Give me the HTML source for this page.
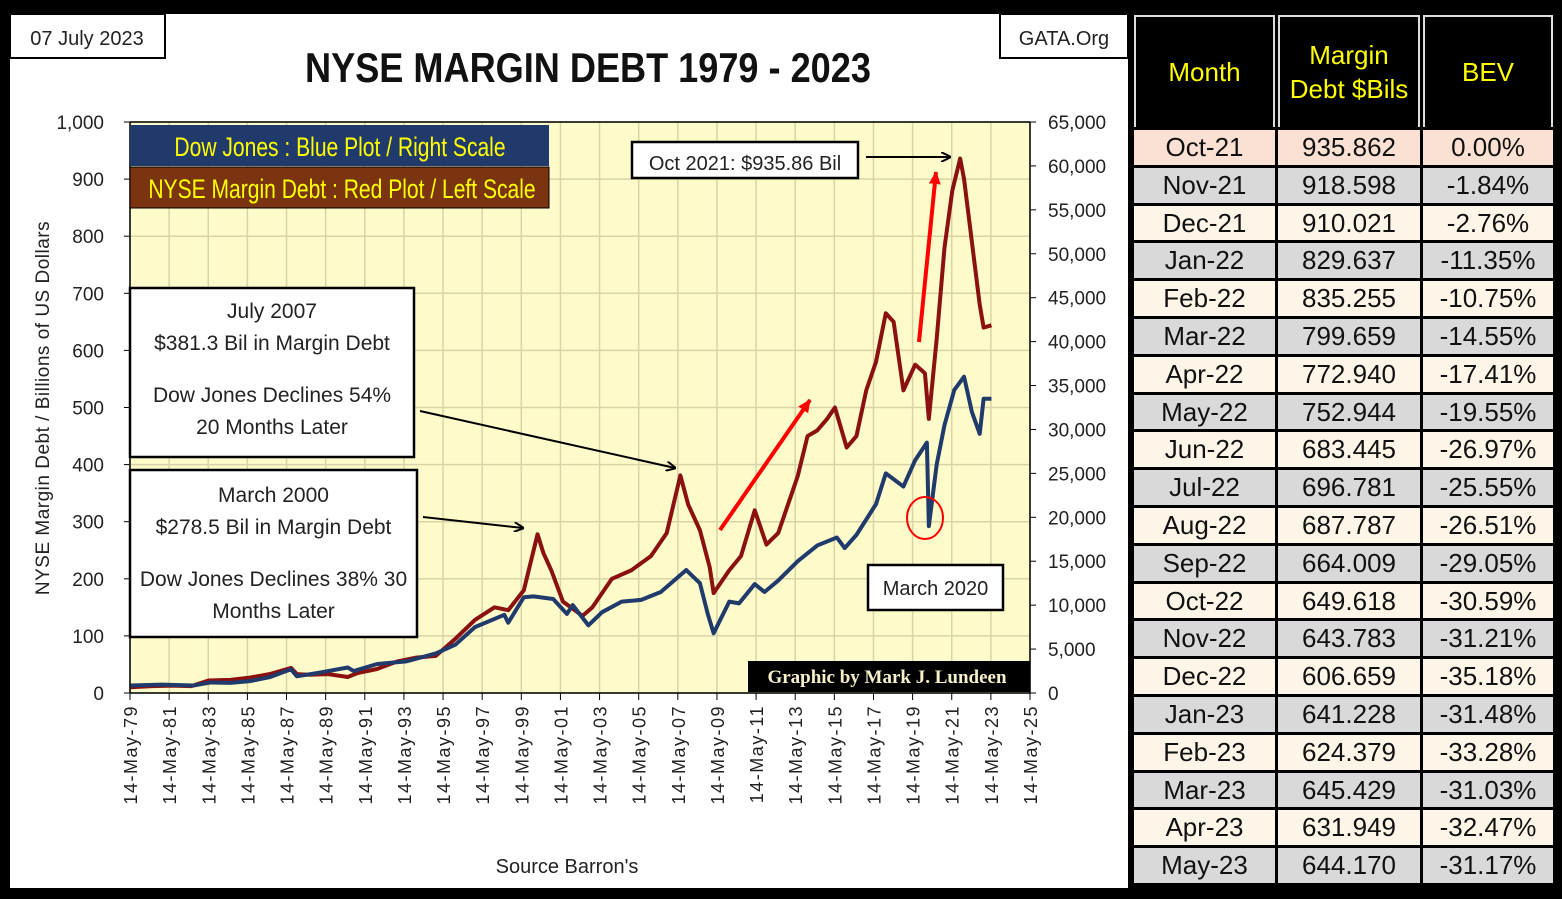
<!DOCTYPE html>
<html><head><meta charset="utf-8">
<style>
body{margin:0;background:#000;width:1562px;height:899px;overflow:hidden;font-family:"Liberation Sans",sans-serif}
#panel{position:absolute;left:10px;top:14px;width:1118px;height:874px;background:#fff}
table{position:absolute;left:1131px;top:12px;border-collapse:separate;border-spacing:3px;font-family:"Liberation Sans",sans-serif}
td{text-align:center;font-size:26px;height:34.8px;line-height:34.8px;padding:0;color:#111;overflow:hidden}
th{background:#000;color:#ff0;font-weight:normal;font-size:26px;height:110px;border:2px solid #ddd;border-bottom:none;line-height:34px;padding:0}
.p td{background:#fbe1d3}.g td{background:#d9d9d9}.c td{background:#fdf6e8}
</style></head><body>
<div id="panel"></div>
<svg id="chart" width="1130" height="899" style="position:absolute;left:0;top:0"></svg>
<table>
<thead><tr><th style="width:137px">Month</th><th style="width:138px">Margin<br>Debt $Bils</th><th style="width:126px">BEV</th></tr></thead>
<tbody id="tb"></tbody></table>
<script>
const months=["Oct-21","Nov-21","Dec-21","Jan-22","Feb-22","Mar-22","Apr-22","May-22","Jun-22","Jul-22","Aug-22","Sep-22","Oct-22","Nov-22","Dec-22","Jan-23","Feb-23","Mar-23","Apr-23","May-23"];
const debts=["935.862","918.598","910.021","829.637","835.255","799.659","772.940","752.944","683.445","696.781","687.787","664.009","649.618","643.783","606.659","641.228","624.379","645.429","631.949","644.170"];
const bevs=["0.00%","-1.84%","-2.76%","-11.35%","-10.75%","-14.55%","-17.41%","-19.55%","-26.97%","-25.55%","-26.51%","-29.05%","-30.59%","-31.21%","-35.18%","-31.48%","-33.28%","-31.03%","-32.47%","-31.17%"];
const tb=document.getElementById('tb');
months.forEach((m,i)=>{const tr=document.createElement('tr');tr.className=i==0?'p':(i%2?'g':'c');


tr.innerHTML='<td>'+m+'</td><td>'+debts[i]+'</td><td>'+bevs[i]+'</td>';tb.appendChild(tr);});

// chart data
const debtYears=[1979.4,1980.5,1981.5,1982.5,1983.4,1984.5,1985.5,1986.5,1987.6,1987.9,1988.5,1989.5,1990.5,1991.0,1992.0,1993.0,1994.0,1995.0,1996.0,1997.0,1998.0,1998.7,1999.5,2000.2,2000.5,2000.9,2001.5,2002.5,2003.0,2004.0,2005.0,2006.0,2006.8,2007.5,2007.9,2008.5,2009.0,2009.2,2010.0,2010.6,2011.3,2011.9,2012.5,2013.0,2013.5,2014.0,2014.5,2015.0,2015.4,2016.0,2016.5,2017.0,2017.5,2018.0,2018.4,2018.9,2019.5,2020.0,2020.2,2020.6,2021.0,2021.4,2021.8,2022.0,2022.4,2022.8,2023.0,2023.4];
const debtVals=[10,12,13,12,22,23,27,33,44,33,32,33,28,35,42,55,62,65,95,128,150,145,180,278,245,215,160,135,150,200,215,240,280,381,330,285,220,175,215,240,320,260,280,330,380,450,460,480,500,430,450,530,580,665,650,530,575,560,480,620,780,880,936,900,790,680,640,644];
const dowYears=[1979.4,1981.0,1982.6,1983.5,1984.5,1985.5,1986.5,1987.6,1987.9,1989.0,1990.5,1990.8,1992.0,1993.5,1995.0,1996.0,1997.0,1998.5,1998.7,1999.5,2000.0,2001.0,2001.7,2002.0,2002.8,2003.5,2004.5,2005.5,2006.5,2007.8,2008.5,2008.9,2009.2,2010.0,2010.5,2011.3,2011.8,2012.5,2013.5,2014.5,2015.5,2015.9,2016.5,2017.5,2018.0,2018.9,2019.5,2020.1,2020.2,2020.6,2021.0,2021.5,2022.0,2022.4,2022.8,2023.0,2023.4];
const dowVals=[850,950,850,1200,1150,1350,1800,2700,1900,2300,2900,2500,3300,3600,4500,5500,7500,8900,8000,10900,11000,10700,9000,10000,7700,9200,10400,10600,11500,14000,12500,9000,6800,10400,10200,12400,11500,12800,15000,16800,17700,16500,18000,21500,25000,23500,26500,28500,19000,26000,30500,34500,36000,32000,29500,33500,33500];
const leftTicks=[0,100,200,300,400,500,600,700,800,900,1000];
const rightTicks=[0,5000,10000,15000,20000,25000,30000,35000,40000,45000,50000,55000,60000,65000];
const xTickYears=[79,81,83,85,87,89,91,93,95,97,99,1,3,5,7,9,11,13,15,17,19,21,23,25];

const X0=130,X1=1030,Y0=693,Y1=122,T0=1979.37,T1=2025.37;
const xs=t=>X0+(t-T0)/(T1-T0)*(X1-X0);
const yl=v=>Y0-v/1000*(Y0-Y1);
const yr=v=>Y0-v/65000*(Y0-Y1);
const svg=document.getElementById('chart');const NS='http://www.w3.org/2000/svg';
function mk(tag,a,name,txt){const e=document.createElementNS(NS,tag);for(const k in a)e.setAttribute(k,a[k]);


if(txt!=null)e.textContent=txt;svg.appendChild(e);return e;}
mk('defs',{},'defs').innerHTML='<marker id="ab" markerWidth="10" markerHeight="10" refX="9" refY="5" orient="auto" markerUnits="userSpaceOnUse"><path d="M0,0L10,5L0,10" fill="none" stroke="#000" stroke-width="2"/></marker><marker id="ar" markerWidth="14" markerHeight="14" refX="12" refY="7" orient="auto" markerUnits="userSpaceOnUse"><path d="M0,1L13,7L0,13Z" fill="#f00"/></marker>';
mk('rect',{x:X0,y:Y1,width:X1-X0,height:Y0-Y1,fill:'#fefbcb'},'plot-area');
leftTicks.forEach(v=>{mk('line',{x1:X0,x2:X1,y1:yl(v),y2:yl(v),stroke:'#d8d4a8','stroke-width':1.5},'h-gridline');
mk('line',{x1:X0-6,x2:X0,y1:yl(v),y2:yl(v),stroke:'#000'},'left-tick');
mk('text',{x:X0-26,y:yl(v)+7,'text-anchor':'end','font-size':19,fill:'#222'},'left-tick-label',v.toLocaleString('en-US'));});
rightTicks.forEach(v=>{mk('line',{x1:X1,x2:X1+6,y1:yr(v),y2:yr(v),stroke:'#000'},'right-tick');
mk('text',{x:X1+18,y:yr(v)+7,'font-size':19,fill:'#222'},'right-tick-label',v.toLocaleString('en-US'));});
xTickYears.forEach((yy,i)=>{const t=T0+i*2,x=xs(t);
mk('line',{x1:x,x2:x,y1:Y1,y2:Y0,stroke:'#d8d4a8','stroke-width':1.5},'v-gridline');
mk('line',{x1:x,x2:x,y1:Y0,y2:Y0+7,stroke:'#000'},'x-tick');
const s=String(yy).padStart(2,'0');
mk('text',{x:0,y:0,transform:`translate(${x+7},${Y0+12}) rotate(-90)`,'text-anchor':'end','font-size':18,fill:'#222','letter-spacing':'1.5'},'x-tick-label','14-May-'+s);});
mk('line',{x1:X0,x2:X0,y1:Y1,y2:Y0,stroke:'#000','stroke-width':1.5},'left-axis');
mk('line',{x1:X1,x2:X1,y1:Y1,y2:Y0,stroke:'#000','stroke-width':1.5},'right-axis');
mk('line',{x1:X0,x2:X1,y1:Y0,y2:Y0,stroke:'#000','stroke-width':1.5},'x-axis');
mk('line',{x1:X0,x2:X1,y1:Y1,y2:Y1,stroke:'#000','stroke-width':1.5},'plot-top');
mk('polyline',{points:debtYears.map((t,i)=>xs(t)+','+yl(debtVals[i])).join(' '),fill:'none',stroke:'#8b1010','stroke-width':4,'stroke-linejoin':'round'},'margin-debt-line');
mk('polyline',{points:dowYears.map((t,i)=>xs(t)+','+yr(dowVals[i])).join(' '),fill:'none',stroke:'#1f3a6b','stroke-width':4,'stroke-linejoin':'round'},'dow-jones-line');
// titles and boxes
mk('rect',{x:10,y:14,width:155,height:44,fill:'#fff',stroke:'#000','stroke-width':2},'date-box');
mk('text',{x:87,y:45,'text-anchor':'middle','font-size':20,fill:'#222'},'date-label','07 July 2023');
mk('rect',{x:1000,y:14,width:128,height:44,fill:'#fff',stroke:'#000','stroke-width':2},'source-org-box');
mk('text',{x:1064,y:45,'text-anchor':'middle','font-size':20,fill:'#222'},'gata-label','GATA.Org');
mk('text',{x:588,y:82,'text-anchor':'middle','font-size':42,'font-weight':'bold',fill:'#111',transform:'translate(588,0) scale(0.86,1) translate(-588,0)'},'chart-title','NYSE MARGIN DEBT 1979 - 2023');
mk('text',{x:0,y:0,transform:'translate(49,408) rotate(-90)','text-anchor':'middle','font-size':19,fill:'#222','letter-spacing':'0.5'},'y-axis-title','NYSE Margin Debt  /  Billions of  US  Dollars');
mk('text',{x:567,y:873,'text-anchor':'middle','font-size':20,fill:'#222'},'source-label',"Source Barron's");
mk('rect',{x:130,y:125,width:419,height:41,fill:'#1f3a6b'},'legend-dow');
mk('rect',{x:130,y:167,width:419,height:41,fill:'#7a3510',stroke:'#000'},'legend-debt');
mk('text',{x:340,y:156,'text-anchor':'middle','font-size':27,fill:'#ff0',transform:'translate(340,0) scale(0.78,1) translate(-340,0)'},'legend-dow-label','Dow Jones : Blue Plot / Right Scale');
mk('text',{x:342,y:198,'text-anchor':'middle','font-size':27,fill:'#ff0',transform:'translate(342,0) scale(0.78,1) translate(-342,0)'},'legend-debt-label','NYSE Margin Debt : Red Plot / Left Scale');
function box(x,y,w,h,lines,name,fs){mk('rect',{x,y,width:w,height:h,fill:'#fff',stroke:'#000','stroke-width':2.5},name);
lines.forEach(l=>mk('text',{x:x+w/2,y:l[0],'text-anchor':'middle','font-size':fs||21,fill:'#222'},name+'-text',l[1]));}
box(632,142,226,36,[[170,'Oct 2021: $935.86  Bil']],'peak-callout',20);
box(130,288,284,169,[[318,'July 2007'],[350,'$381.3  Bil in Margin Debt'],[402,'Dow Jones Declines 54%'],[434,'20 Months Later']],'july-2007-callout');
box(130,470,287,167,[[502,'March  2000'],[534,'$278.5  Bil in Margin Debt'],[586,'Dow Jones Declines 38% 30'],[618,'Months Later']],'march-2000-callout');
box(868,565,135,45,[[595,'March  2020']],'march-2020-callout',20);
mk('rect',{x:748,y:661,width:282,height:31,fill:'#000'},'credit-box');
mk('text',{x:887,y:683,'text-anchor':'middle','font-size':19,'font-family':'Liberation Serif, serif','font-weight':'bold',fill:'#f5f0c8'},'credit-label','Graphic by Mark J. Lundeen');
mk('line',{x1:866,y1:157,x2:950,y2:157,stroke:'#000','stroke-width':2,'marker-end':'url(#ab)'},'peak-arrow');
mk('line',{x1:420,y1:411,x2:675,y2:468,stroke:'#000','stroke-width':2,'marker-end':'url(#ab)'},'2007-arrow');
mk('line',{x1:423,y1:517,x2:523,y2:528,stroke:'#000','stroke-width':2,'marker-end':'url(#ab)'},'2000-arrow');
mk('line',{x1:720,y1:530,x2:810,y2:400,stroke:'#f00','stroke-width':4,'marker-end':'url(#ar)'},'red-trend-arrow-1');
mk('line',{x1:919,y1:342,x2:936,y2:172,stroke:'#f00','stroke-width':4,'marker-end':'url(#ar)'},'red-trend-arrow-2');
mk('ellipse',{cx:925,cy:518,rx:18,ry:21,fill:'none',stroke:'#f00','stroke-width':2},'crash-circle');
</script>
</body></html>
